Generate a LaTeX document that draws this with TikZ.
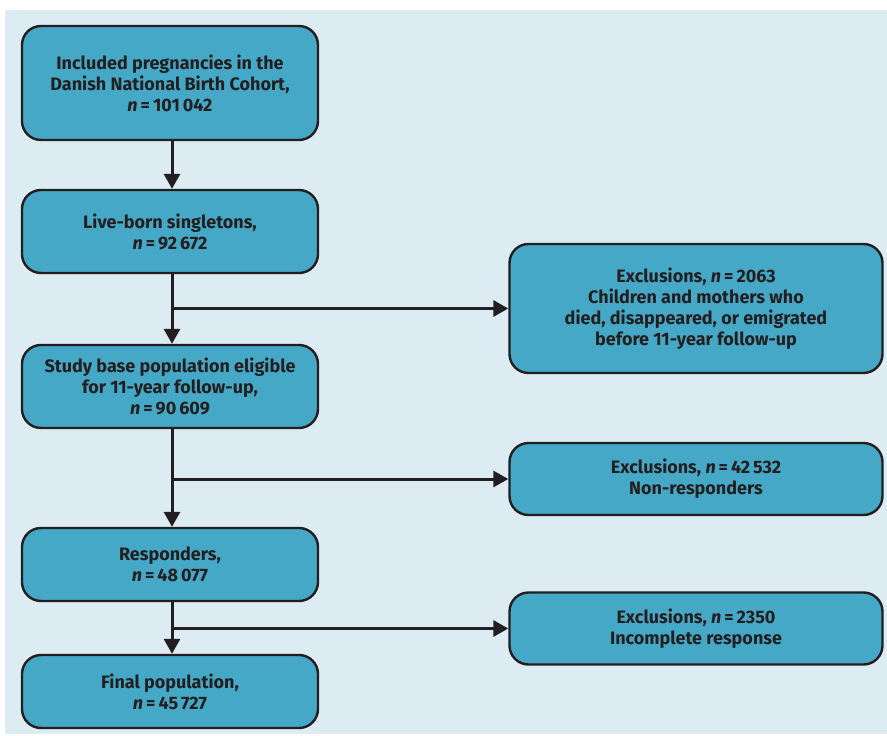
\documentclass[tikz,border=0pt]{standalone}
\usepackage{fontspec}
\setmainfont{Fira Sans}
\usetikzlibrary{arrows.meta}
\definecolor{bgc}{HTML}{DDEBF2}
\definecolor{boxc}{HTML}{45A8C6}
\definecolor{ink}{HTML}{231F20}
\begin{document}
\begin{tikzpicture}[x=1pt,y=-1pt,
  box/.style={draw=ink,line width=2.4pt,fill=boxc,rounded corners=19pt,inner sep=0pt,
    font=\fontsize{18}{21}\selectfont\bfseries,text=ink,align=center},
  conn/.style={draw=ink,line width=3pt},
  arr/.style={conn,-{Triangle[length=15pt,width=16pt]}}]
\useasboundingbox (0,0) rectangle (887,736);
\fill[white] (0,0) rectangle (887,736);
\fill[bgc] (5,10) rectangle (887,734);
\newcommand{\nn}{\textit{n}\,=\,}
\node[box,minimum width=296pt,minimum height=114pt] (b1) at (170,83)
  {Included pregnancies in the\\Danish National Birth Cohort,\\\nn101\,042};
\node[box,minimum width=296pt,minimum height=83pt] (b2) at (170,231.5)
  {Live-born singletons,\\\nn92\,672};
\node[box,minimum width=296pt,minimum height=83pt] (b3) at (170,386.5)
  {Study base population eligible\\for 11-year follow-up,\\\nn90\,609};
\node[box,minimum width=296pt,minimum height=73pt] (b4) at (170,564.5)
  {Responders,\\\nn48\,077};
\node[box,minimum width=296pt,minimum height=73pt] (b5) at (170,691.5)
  {Final population,\\\nn45\,727};
\node[box,minimum width=373pt,minimum height=129pt] (e1) at (696,308.5)
  {Exclusions, \nn2063\\Children and mothers who\\died, disappeared, or emigrated\\before 11-year follow-up};
\node[box,minimum width=373pt,minimum height=72pt] (e2) at (696,479)
  {Exclusions, \nn42\,532\\Non-responders};
\node[box,minimum width=373pt,minimum height=72pt] (e3) at (696,628.5)
  {Exclusions, \nn2350\\Incomplete response};
\coordinate (j1) at (172,308.5);
\coordinate (j2) at (172,479);
\coordinate (j3) at (172,628.5);
\draw[arr] (b1.south -| j1) -- (b2.north -| j1);
\draw[arr] (b2.south -| j1) -- (b3.north -| j1);
\draw[arr] (j1) -- (e1.west);
\draw[arr] (b3.south -| j2) -- (b4.north -| j2);
\draw[arr] (j2) -- (e2.west);
\draw[arr] (b4.south -| j3) -- (b5.north -| j3);
\draw[arr] (j3) -- (e3.west);
\end{tikzpicture}
\end{document}
